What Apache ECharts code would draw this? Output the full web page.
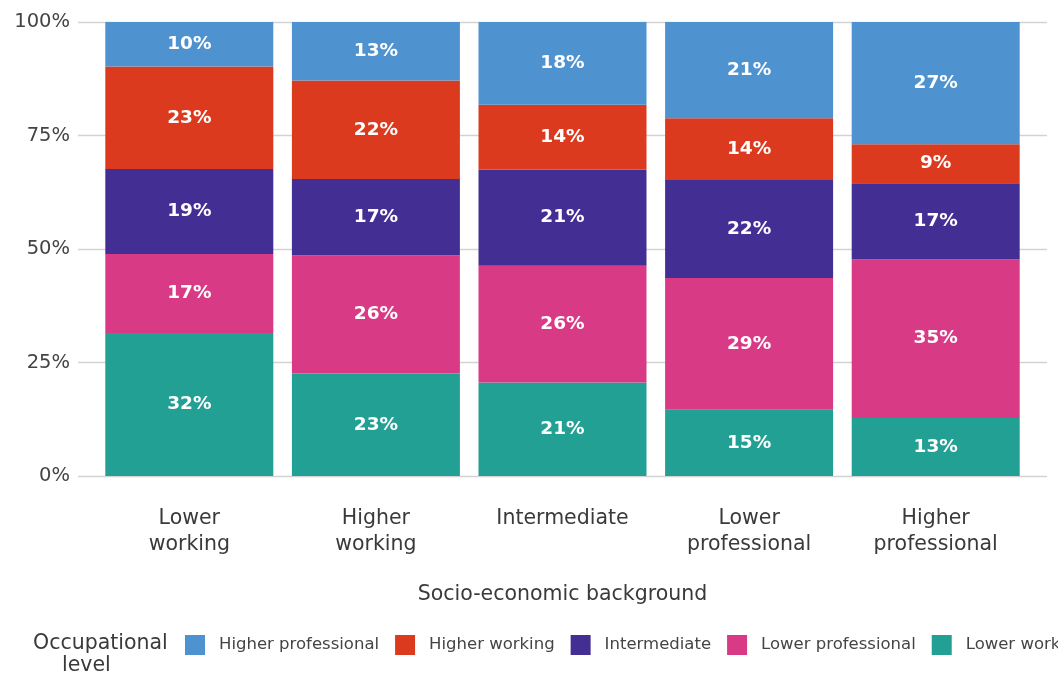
<!DOCTYPE html>
<html>
<head>
<meta charset="utf-8">
<script src="https://cdn.jsdelivr.net/npm/echarts@6/dist/echarts.min.js"></script>
<style>
html,body{margin:0;padding:0;background:#fff;}
#chart{width:1058px;height:677px;}
</style>
</head>
<body>
<div id="chart"></div>
<script>
// Categories (x axis)
const categories = ['Lower\nworking', 'Higher\nworking', 'Intermediate', 'Lower\nprofessional', 'Higher\nprofessional'];
// Occupational level shares (%) per socio-economic background
const lowerWorking       = [31.5, 22.6, 20.6, 14.6, 12.8];
const lowerProfessional  = [17.4, 26.0, 25.7, 29.0, 34.9];
const intermediate       = [18.7, 16.8, 21.2, 21.6, 16.8];
const higherWorking      = [22.6, 21.7, 14.3, 13.6, 8.6];
const higherProfessional = [9.8, 12.9, 18.2, 21.2, 26.9];
const legendOrder = ['Higher professional', 'Higher working', 'Intermediate', 'Lower professional', 'Lower working'];
const yTicks = [0, 25, 50, 75, 100];

const FONT = 'DejaVu Sans';
const colors = {
  'Lower working': '#22A093',
  'Lower professional': '#D93A86',
  'Intermediate': '#432E94',
  'Higher working': '#DC3A1E',
  'Higher professional': '#4E93CF'
};

function mk(name, data) {
  return {
    name: name,
    type: 'bar',
    stack: 'total',
    xAxisIndex: 1,
    yAxisIndex: 1,
    barWidth: 168,
    data: data,
    itemStyle: { color: colors[name] },
    label: {
      show: true,
      position: 'inside',
      color: '#ffffff',
      fontFamily: FONT,
      fontWeight: 'bold',
      fontSize: 18.5,
      formatter: p => Math.round(p.value) + '%'
    },
    emphasis: { disabled: true }
  };
}

const chart = echarts.init(document.getElementById('chart'), null, { renderer: 'canvas' });
chart.setOption({
  animation: false,
  backgroundColor: '#ffffff',
  grid: [
    { left: 78, right: 11, top: 22, bottom: 201 },
    { left: 96, right: 29, top: 22, bottom: 201 }
  ],
  xAxis: [
    { gridIndex: 0, type: 'value', show: false, min: 0, max: 1 },
    {
      gridIndex: 1, type: 'category', data: categories,
      axisLine: { show: false }, axisTick: { show: false },
      axisLabel: { color: '#3a3a3a', fontFamily: FONT, fontSize: 20.5, lineHeight: 26, margin: 30 },
      name: 'Socio-economic background',
      nameLocation: 'middle',
      nameGap: 108,
      nameTextStyle: { color: '#3a3a3a', fontFamily: FONT, fontSize: 20.5 }
    }
  ],
  yAxis: [
    {
      gridIndex: 0, type: 'value', min: yTicks[0], max: yTicks[yTicks.length - 1], interval: 25,
      axisLine: { show: false }, axisTick: { show: false },
      axisLabel: { color: '#444', fontFamily: FONT, fontSize: 19.5, margin: 8, formatter: '{value}%' },
      splitLine: { show: true, lineStyle: { color: '#d3d3d3', width: 1.3 } }
    },
    { gridIndex: 1, type: 'value', min: 0, max: 100, show: false, splitLine: { show: false } }
  ],
  legend: {
    data: legendOrder,
    left: 180,
    top: 630,
    width: 1400,
    orient: 'horizontal',
    itemWidth: 20,
    itemHeight: 20,
    itemGap: 16,
    icon: 'rect',
    textStyle: { color: '#444', fontFamily: FONT, fontSize: 16.5, padding: [0, 0, 0, 9] }
  },
  graphic: [
    { type: 'text', left: 33, top: 633, style: { text: 'Occupational', fill: '#3a3a3a', font: '20.5px "DejaVu Sans"' } },
    { type: 'text', left: 62, top: 655, style: { text: 'level', fill: '#3a3a3a', font: '20.5px "DejaVu Sans"' } }
  ],
  series: [
    mk('Lower working', lowerWorking),
    mk('Lower professional', lowerProfessional),
    mk('Intermediate', intermediate),
    mk('Higher working', higherWorking),
    mk('Higher professional', higherProfessional)
  ]
});
</script>
</body>
</html>
